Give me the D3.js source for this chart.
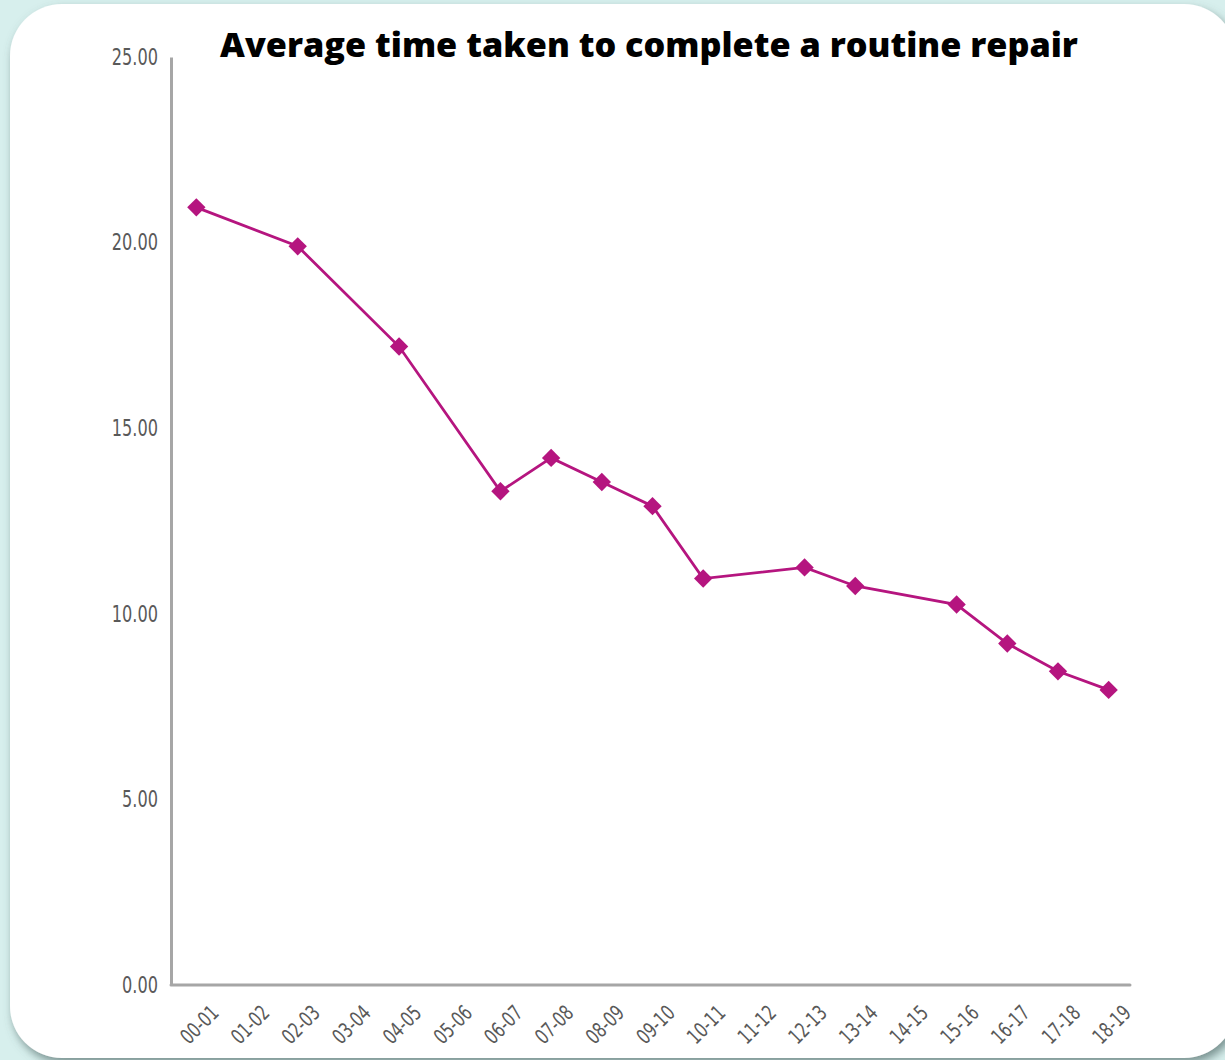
<!DOCTYPE html>
<html>
<head>
<meta charset="utf-8">
<script src="https://cdn.jsdelivr.net/npm/d3@7"></script>
<style>
  html, body { margin: 0; padding: 0; background: #d7efed; }
  svg { display: block; }
</style>
</head>
<body>
<svg id="chart" width="1225" height="1060"></svg>
<script>
// Financial years on the category axis
const categories = ["00-01", "01-02", "02-03", "03-04", "04-05", "05-06", "06-07", "07-08", "08-09", "09-10",
                    "10-11", "11-12", "12-13", "13-14", "14-15", "15-16", "16-17", "17-18", "18-19"];
// Average days to complete a routine repair (null = no figure for that year)
const repairDays = [20.95, null, 19.9, null, 17.2, null, 13.3, 14.2, 13.55, 12.9,
                    10.95, null, 11.25, 10.75, null, 10.25, 9.2, 8.45, 7.95];
const yTicks = [0, 5, 10, 15, 20, 25];
const titleText = "Average time taken to complete a routine repair";

(function draw() {
  const svg = d3.select("#chart");
  const W = 1225, H = 1060;

  // Background and white card with soft shadow
  svg.append("rect").attr("width", W).attr("height", H).attr("fill", "#d7efed");
  const defs = svg.append("defs");
  const f = defs.append("filter").attr("id", "cardShadow")
    .attr("x", "-5%").attr("y", "-5%").attr("width", "115%").attr("height", "115%");
  f.append("feDropShadow").attr("dx", 3).attr("dy", 5).attr("stdDeviation", 5)
    .attr("flood-color", "#4f6866").attr("flood-opacity", 0.7);
  svg.append("rect")
    .attr("x", 10).attr("y", 4).attr("width", 1226).attr("height", 1054)
    .attr("rx", 52).attr("ry", 52)
    .attr("fill", "#ffffff")
    .attr("filter", "url(#cardShadow)");

  // Scales
  const plotLeft = 171, plotRight = 1134, plotTop = 57, plotBottom = 985;
  const x = d3.scalePoint().domain(categories).range([plotLeft, plotRight]).padding(0.5);
  const y = d3.scaleLinear().domain([0, 25]).range([plotBottom, plotTop]);

  const axisColor = "#a6a6a6";
  const labelFont = "'DejaVu Sans Condensed', 'Liberation Sans Narrow', 'Roboto', sans-serif";

  // Narrow the tick labels horizontally to a condensed look
  function condense(sel, k) {
    sel.each(function () {
      const w = this.getComputedTextLength();
      d3.select(this).attr("textLength", (w * k).toFixed(1)).attr("lengthAdjust", "spacingAndGlyphs");
    });
  }

  // Y axis
  const yAxis = svg.append("g")
    .attr("transform", `translate(${plotLeft},0)`)
    .call(d3.axisLeft(y).tickValues(yTicks).tickFormat(d3.format(".2f")).tickSize(0).tickPadding(13));
  yAxis.select(".domain").attr("stroke", axisColor).attr("stroke-width", 3);
  yAxis.selectAll("text")
    .attr("fill", "#595959")
    .style("font-family", labelFont)
    .style("font-size", "23px")
    .call(condense, 0.78);

  // X axis
  const xAxis = svg.append("g")
    .attr("transform", `translate(0,${plotBottom})`)
    .call(d3.axisBottom(x).tickSize(0).tickPadding(0));
  xAxis.select(".domain")
    .attr("d", `M${plotLeft},0H${plotRight - 4}`)
    .attr("stroke", axisColor).attr("stroke-width", 3).attr("stroke-linecap", "round");
  xAxis.selectAll("text")
    .attr("fill", "#595959")
    .style("font-family", labelFont)
    .style("font-size", "21px")
    .attr("text-anchor", "end")
    .attr("dy", "0.35em")
    .attr("transform", "translate(18,24) rotate(-45)")
    .call(condense, 0.8);

  // Line and markers
  const pts = categories.map((c, i) => ({ c, v: repairDays[i] })).filter(d => d.v != null);
  const lineColor = "#b5157f";
  svg.append("path")
    .datum(pts)
    .attr("fill", "none")
    .attr("stroke", lineColor)
    .attr("stroke-width", 2.8)
    .attr("d", d3.line().x(d => x(d.c)).y(d => y(d.v)));

  svg.append("g").selectAll("path")
    .data(pts)
    .join("path")
    .attr("transform", d => `translate(${x(d.c)},${y(d.v)})`)
    .attr("d", d3.symbol().type(d3.symbolDiamond2).size(215))
    .attr("fill", lineColor);

  // Title, scaled to span its intended width
  const title = svg.append("text")
    .attr("x", 649).attr("y", 57)
    .attr("text-anchor", "middle")
    .attr("fill", "#000")
    .style("font-family", "'Open Sans', 'DejaVu Sans', sans-serif")
    .style("font-weight", "800")
    .style("font-size", "34px")
    .text(titleText);
  const tw = title.node().getComputedTextLength();
  title.style("font-size", (34 * 858 / tw).toFixed(2) + "px");
})();
</script>
</body>
</html>
